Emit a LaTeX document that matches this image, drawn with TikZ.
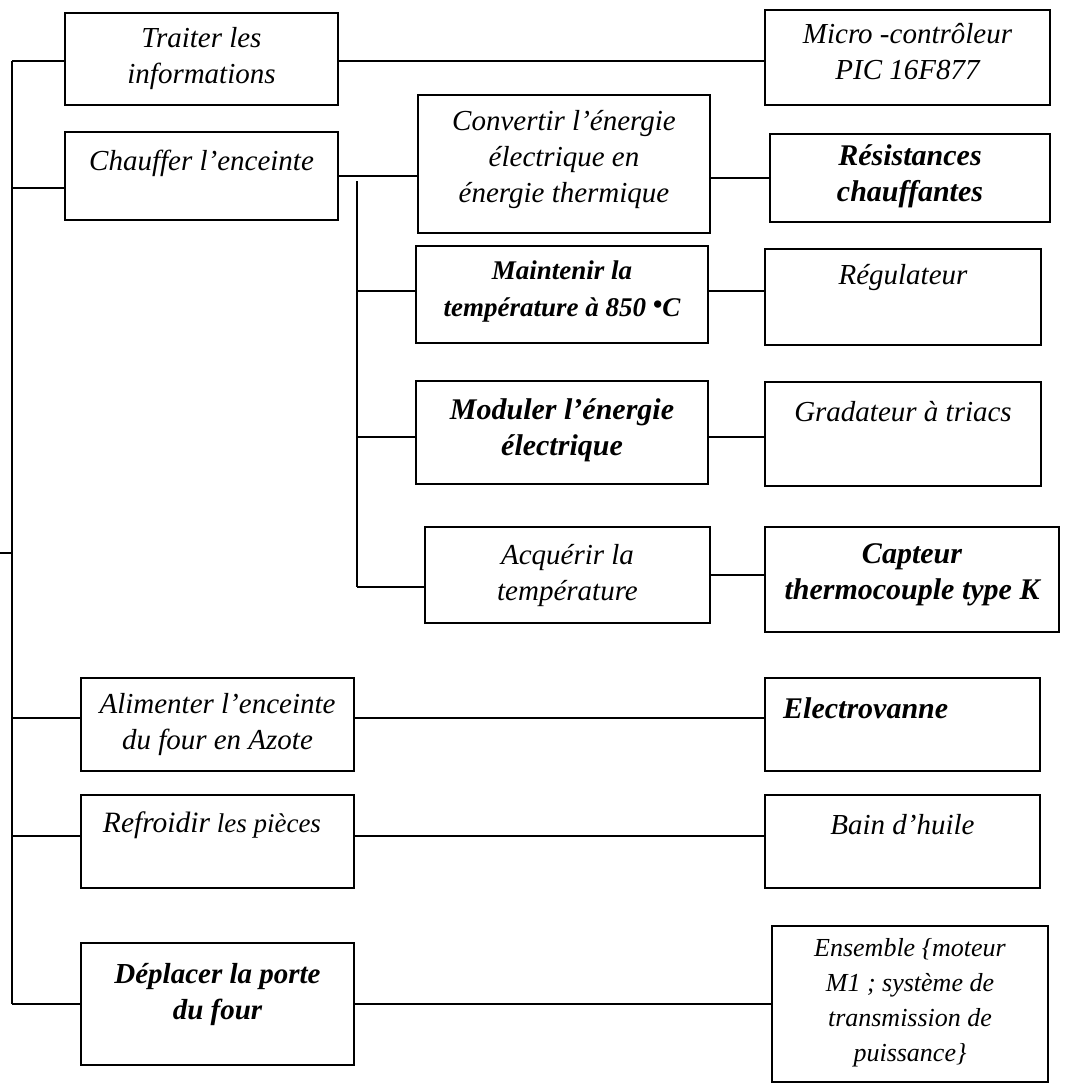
\documentclass[tikz,border=0pt]{standalone}
\usepackage{fontspec}
\setmainfont{Liberation Serif}
\usetikzlibrary{calc}
\newcommand{\bx}[5]{\node[box, minimum width={(#4-#2)*1pt}, minimum height={(#5-#3)*1pt}] (#1) at ({(#2+#4)/2},{(#3+#5)/2}) {};}
\tikzset{
  box/.style={draw, line width=2.2pt, inner sep=0pt, outer sep=0pt},
  conn/.style={line width=1.5pt},
  txt/.style={font=\itshape\fontsize{29}{36}\selectfont, align=center, inner sep=0pt},
  btxt/.style={font=\bfseries\itshape\fontsize{30}{36}\selectfont, align=center, inner sep=0pt},
}
\begin{document}
\begin{tikzpicture}[x=1pt,y=-1pt]
\useasboundingbox (0,0) rectangle (1074,1090);
% boxes
\bx{traiter}{65}{13}{338}{105}
\bx{micro}{765}{10}{1050}{105}
\bx{chauffer}{65}{132}{338}{220}
\bx{convertir}{418}{95}{710}{233}
\bx{resist}{770}{134}{1050}{222}
\bx{maintenir}{416}{246}{708}{343}
\bx{regul}{765}{249}{1041}{345}
\bx{moduler}{416}{381}{708}{484}
\bx{gradat}{765}{382}{1041}{486}
\bx{acquerir}{425}{527}{710}{623}
\bx{capteur}{765}{527}{1059}{632}
\bx{alim}{81}{678}{354}{771}
\bx{electro}{765}{678}{1040}{771}
\bx{refroid}{81}{795}{354}{888}
\bx{bain}{765}{795}{1040}{888}
\bx{deplacer}{81}{943}{354}{1065}
\bx{ensemble}{772}{926}{1048}{1082}
% texts
\node[txt] (t1) at (201.5,59) {Traiter les\\informations};
\node[txt] (t2) at (907.5,52) {Micro -contrôleur\\PIC 16F877};
\node[txt] (t3) at (201.5,163) {Chauffer l’enceinte};
\node[txt] (t4) at (564,160) {Convertir l’énergie\\électrique en\\énergie thermique};
\node[btxt] (t5) at (910,176) {Résistances\\chauffantes};
\node[btxt, font=\bfseries\itshape\fontsize{27}{37}\selectfont] (t6) at (562,292) {Maintenir la\\température à 850 \raisebox{0.3ex}{•}C};
\node[txt] (t7) at (903,278) {Régulateur};
\node[btxt] (t8) at (562,430) {Moduler l’énergie\\électrique};
\node[txt] (t9) at (903,412) {Gradateur à triacs};
\node[txt] (t10) at (567.5,576) {Acquérir la\\température};
\node[btxt] (t11) at (912,575) {Capteur\\thermocouple type K};
\node[txt] (t12) at (217.5,724.5) {Alimenter l’enceinte\\du four en Azote};
\node[btxt, anchor=west] (t13) at (783,708) {Electrovanne};
\node[txt, font=\itshape\fontsize{27}{36}\selectfont] (t14) at (212,825) {{\fontsize{29.5}{36}\selectfont Refroidir} les pièces};
\node[txt] (t15) at (902.5,825) {Bain d’huile};
\node[btxt, font=\bfseries\itshape\fontsize{29}{36}\selectfont] (t16) at (217.5,994) {Déplacer la porte\\du four};
\node[txt, font=\itshape\fontsize{26}{35}\selectfont] (t17) at (910,1003) {Ensemble \{moteur\\M1 ; système de\\transmission de\\puissance\}};
% main trunk
\coordinate (a1) at (12,61);
\coordinate (a2) at (12,188);
\coordinate (a3) at (12,718);
\coordinate (a4) at (12,836);
\coordinate (a5) at (12,1004);
\coordinate (s0) at (0,553);
\draw[conn] (a1) -- (a5);
\draw[conn] (s0) -- (s0 -| a1);
\draw[conn] (a1) -- (a1 -| traiter.west);
\draw[conn] (a2) -- (a2 -| chauffer.west);
\draw[conn] (a3) -- (a3 -| alim.west);
\draw[conn] (a4) -- (a4 -| refroid.west);
\draw[conn] (a5) -- (a5 -| deplacer.west);
% second trunk
\coordinate (b0) at (357,181);
\coordinate (b1) at (357,291);
\coordinate (b2) at (357,437);
\coordinate (b3) at (357,587);
\draw[conn] (b0) -- (b3);
\draw[conn] (b1) -- (b1 -| maintenir.west);
\draw[conn] (b2) -- (b2 -| moduler.west);
\draw[conn] (b3) -- (b3 -| acquerir.west);
% horizontal links
\draw[conn] (a1 -| traiter.east) -- (a1 -| micro.west);
\draw[conn] (chauffer.east) -- (chauffer.east -| convertir.west);
\draw[conn] (resist.west -| convertir.east) -- (resist.west);
\draw[conn] (b1 -| maintenir.east) -- (b1 -| regul.west);
\draw[conn] (b2 -| moduler.east) -- (b2 -| gradat.west);
\draw[conn] (acquerir.east) -- (acquerir.east -| capteur.west);
\draw[conn] (a3 -| alim.east) -- (a3 -| electro.west);
\draw[conn] (a4 -| refroid.east) -- (a4 -| bain.west);
\draw[conn] (a5 -| deplacer.east) -- (a5 -| ensemble.west);
\end{tikzpicture}
\end{document}
